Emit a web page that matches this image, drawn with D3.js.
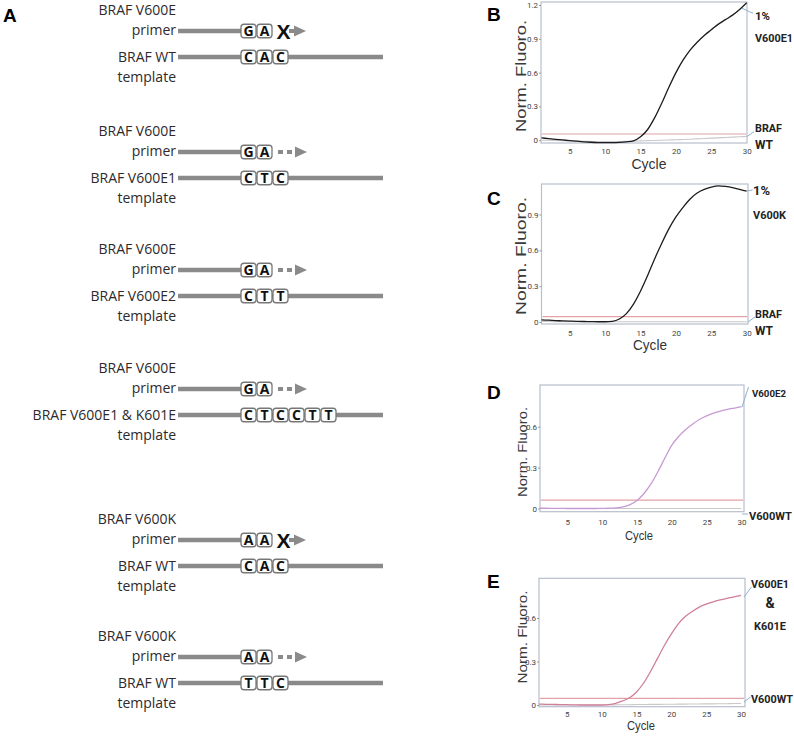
<!DOCTYPE html>
<html><head><meta charset="utf-8">
<script src="https://cdn.jsdelivr.net/npm/d3@7"></script>
<style>body{margin:0;background:#fff}svg{display:block}</style>
</head><body>
<svg id="c" width="794" height="739"></svg>
<script>
// ---------------- DATA ----------------
// Panel A scheme
const schemePrimers = ["BRAF V600E","BRAF V600E","BRAF V600E","BRAF V600E","BRAF V600K","BRAF V600K"];
const schemeTemplates = ["BRAF WT","BRAF V600E1","BRAF V600E2","BRAF V600E1 & K601E","BRAF WT","BRAF WT"];
const primerBases = [["G","A"],["G","A"],["G","A"],["G","A"],["A","A"],["A","A"]];
const templateBases = [["C","A","C"],["C","T","C"],["C","T","T"],["C","T","C","C","T","T"],["C","A","C"],["T","T","C"]];
const primerBlocked = [true,false,false,false,true,false];

// Amplification curves (cycles 1..30)
const cycles = d3.range(1, 31);
const xTicks = [5,10,15,20,25,30];
const bTarget = [0.02,0.014,0.008,0.002,-0.004,-0.009,-0.014,-0.018,-0.021,-0.022,-0.022,-0.02,-0.015,-0.006,0.03,0.095,0.2,0.33,0.47,0.6,0.71,0.8,0.87,0.93,0.98,1.03,1.07,1.11,1.16,1.22];
const bWT = [0.0,0.0,-0.002,-0.004,-0.006,-0.008,-0.01,-0.011,-0.012,-0.012,-0.012,-0.011,-0.01,-0.008,-0.006,-0.004,-0.002,0.0,0.002,0.004,0.006,0.009,0.012,0.015,0.018,0.021,0.024,0.027,0.03,0.033];
const cTarget = [0.018,0.015,0.012,0.009,0.007,0.005,0.004,0.003,0.002,0.002,0.006,0.025,0.07,0.15,0.26,0.39,0.53,0.66,0.78,0.88,0.96,1.03,1.08,1.11,1.13,1.14,1.135,1.125,1.11,1.095];
const cWT = [0.004,0.004,0.003,0.003,0.002,0.002,0.002,0.002,0.002,0.002,0.002,0.002,0.002,0.002,0.002,0.002,0.002,0.002,0.002,0.002,0.002,0.002,0.002,0.002,0.002,0.002,0.002,0.002,0.002,0.002];
const dTarget = [0.002,0.002,0.001,0.001,0.0,0.0,0.0,0.0,0.0,0.001,0.002,0.005,0.012,0.028,0.058,0.11,0.18,0.27,0.37,0.465,0.53,0.58,0.62,0.655,0.68,0.7,0.715,0.727,0.737,0.747];
const dWT = [0.0,0.0,0.0,0.0,0.0,0.0,0.0,0.0,0.0,0.0,0.0,0.0,0.0,0.0,0.0,0.0,0.0,0.0,0.0,0.0,0.0,0.0,0.0,0.0,0.0,0.0,0.0,0.0,0.0,0.0];
const eTarget = [0.006,0.005,0.004,0.003,0.002,0.001,0.0,0.0,0.0,0.0,0.003,0.012,0.028,0.05,0.09,0.15,0.23,0.32,0.41,0.49,0.56,0.61,0.645,0.675,0.695,0.712,0.725,0.736,0.746,0.756];
const eWT = [0.0,0.0,0.0,0.0,0.0,0.0,0.0,0.0,0.0,0.0,0.001,0.001,0.002,0.002,0.003,0.003,0.004,0.004,0.005,0.005,0.006,0.006,0.007,0.007,0.008,0.008,0.009,0.009,0.01,0.01];
const thresholds = [0.055, 0.045, 0.062, 0.046];
const bYTicks = [0,0.3,0.6,0.9,1.2];
const cYTicks = [0,0.3,0.6,0.9];
const dYTicks = [0,0.3,0.6];
const eYTicks = [0,0.3,0.6];
const bLabels = ["1%","V600E1","BRAF","WT"];
const cLabels = ["1%","V600K","BRAF","WT"];
const dLabels = ["V600E2","V600WT"];
const eLabels = ["V600E1","&","K601E","V600WT"];

// ---------------- DRAW ----------------
const svg = d3.select("#c");
const fontA = "'Open Sans', 'DejaVu Sans', sans-serif";
const fontArial = "'Liberation Sans', Arial, sans-serif";
const fontNarrow = "'Liberation Sans Narrow', 'Roboto', 'Liberation Sans', sans-serif";
const grayLine = "#8a8a8a";

// fit a text into a width by shrinking its font size (no overflow)
function fitText(sel, maxFs, target) {
  sel.attr("font-size", maxFs);
  const w = sel.node().getComputedTextLength();
  if (w > target) sel.attr("font-size", maxFs * target / w);
  return sel;
}

// Panel A
svg.append("text").attr("x",3).attr("y",22).text("A")
  .attr("font-family",fontArial).attr("font-weight","bold").attr("font-size",19);

const rowY = [10,131,249,368,519,636];
const labelX = 176, lineX0 = 178, boxX0 = 241, pitch = 16, boxW = 15, boxH = 13.5, tmplEnd = 383;
const pY = 21, tY = 47;

rowY.forEach((r,i)=>{
  const g = svg.append("g").attr("transform",`translate(0,${r})`);
  const lab = (t,y)=> g.append("text").attr("x",labelX).attr("y",y).attr("text-anchor","end")
      .attr("font-family",fontA).attr("font-size",14).attr("fill","#2e2a2c").text(t);
  lab(schemePrimers[i], 5);
  lab("primer", 24.5);
  lab(schemeTemplates[i], 52);
  lab("template", 72);
  g.append("line").attr("x1",lineX0).attr("x2",boxX0).attr("y1",pY).attr("y2",pY)
    .attr("stroke",grayLine).attr("stroke-width",4.5);
  g.append("line").attr("x1",lineX0).attr("x2",tmplEnd).attr("y1",tY).attr("y2",tY)
    .attr("stroke",grayLine).attr("stroke-width",4.5);
  const drawBoxes = (bases, cy) => bases.forEach((b,k)=>{
    const x = boxX0 + k*pitch;
    g.append("rect").attr("x",x).attr("y",cy-boxH/2).attr("width",boxW).attr("height",boxH)
      .attr("rx",3).attr("fill","#fff").attr("stroke","#777").attr("stroke-width",1.3);
    g.append("text").attr("x",x+boxW/2).attr("y",cy+5).attr("text-anchor","middle")
      .attr("font-family",fontA).attr("font-weight","bold").attr("font-size",14).attr("fill","#111").text(b);
  });
  drawBoxes(primerBases[i], pY);
  drawBoxes(templateBases[i], tY);
  const ex = boxX0 + primerBases[i].length*pitch;
  const dash = (a,b)=> g.append("line").attr("x1",a).attr("x2",b).attr("y1",pY).attr("y2",pY)
      .attr("stroke",grayLine).attr("stroke-width",4);
  const tri = (x0)=> g.append("path").attr("d",`M${x0},${pY-5.5}L${x0+12},${pY}L${x0},${pY+5.5}Z`).attr("fill",grayLine);
  if (primerBlocked[i]) {
    dash(ex+16, ex+21); tri(ex+21);
    g.append("text").attr("x",ex+10.5).attr("y",pY+7.5).attr("text-anchor","middle")
      .attr("font-family",fontArial).attr("font-weight","bold").attr("font-size",21).attr("fill","#111").text("X");
  } else {
    dash(ex+5, ex+10); dash(ex+14, ex+19); tri(ex+22);
  }
});

// Panels B-E
const panels = [
  {letter:"B", ly:21, box:[541,747,2,143], xr:[541.5,746.7], yd:[0,1.2], yr:[140.2,5], yt:bYTicks,
   target:bTarget, wt:bWT, col:"#1c1c1c", thr:thresholds[0], tickPad:5,
   cyc:{x:649,y:169,len:35,fs:14}, norm:{x:526,y:76,len:112,fs:14},
   labels:bLabels, lpos:[{x:755,y:20,w:15},{x:755,y:41.5,w:38},{x:755,y:131.5,w:27},{x:755,y:149,w:18}],
   leaders:[[742,8.3,753,13.3],[746.7,136.7,754,131.7]]},
  {letter:"C", ly:205, box:[541.5,748,184,324], xr:[541.5,746.7], yd:[0,0.9], yr:[322,214.5], yt:cYTicks,
   target:cTarget, wt:cWT, col:"#1c1c1c", thr:thresholds[1], tickPad:6,
   cyc:{x:650,y:350,len:34,fs:14}, norm:{x:526,y:256,len:118,fs:14},
   labels:cLabels, lpos:[{x:753,y:195,w:17},{x:753,y:219,w:33},{x:755,y:318,w:27},{x:755,y:335,w:18}],
   leaders:[[746.7,191,752.5,190],[748,322,755,317]]},
  {letter:"D", ly:399, box:[540,744,385,511.7], xr:[539.5,741.5], yd:[0,0.6], yr:[508.5,426.7], yt:dYTicks,
   target:dTarget, wt:dWT, col:"#c79ad6", thr:thresholds[2], tickPad:7.5,
   cyc:{x:639,y:540,len:28,fs:12}, norm:{x:527,y:452,len:90,fs:13},
   labels:dLabels, lpos:[{x:752,y:396.7,w:34},{x:749,y:520,w:43}],
   leaders:[[742,407,748.5,387],[742,514,748,514]]},
  {letter:"E", ly:588, box:[539,745,578.3,706.7], xr:[539,741], yd:[0,0.6], yr:[705,618], yt:eYTicks,
   target:eTarget, wt:eWT, col:"#cf7f9a", thr:thresholds[3], tickPad:4.6,
   cyc:{x:641,y:730,len:28,fs:12}, norm:{x:527,y:637,len:93,fs:13},
   labels:eLabels, lpos:[{x:770,y:588,w:38,a:"middle"},{x:770,y:608,w:10,a:"middle"},{x:770,y:630,w:32,a:"middle"},{x:751,y:703,w:42}],
   leaders:[[744,597,751.5,587],[744,702,750.5,697]]}
];

panels.forEach(p=>{
  const g = svg.append("g");
  const [bx0,bx1,by0,by1] = p.box;
  const x = d3.scaleLinear().domain([1,30]).range(p.xr);
  const y = d3.scaleLinear().domain(p.yd).range(p.yr);

  g.append("text").attr("x",487).attr("y",p.ly).text(p.letter)
    .attr("font-family",fontArial).attr("font-weight","bold").attr("font-size",19).attr("fill","#000");

  // axis titles
  g.append("text").attr("x",p.cyc.x).attr("y",p.cyc.y).attr("text-anchor","middle")
    .attr("font-family",fontArial).attr("font-size",p.cyc.fs).attr("fill","#333")
    .attr("textLength",p.cyc.len).attr("lengthAdjust","spacingAndGlyphs").text("Cycle");
  g.append("text").attr("transform",`translate(${p.norm.x},${p.norm.y}) rotate(-90)`).attr("text-anchor","middle")
    .attr("font-family",fontArial).attr("font-size",p.norm.fs).attr("fill","#3a3a3a")
    .attr("textLength",p.norm.len).attr("lengthAdjust","spacingAndGlyphs").text("Norm. Fluoro.");

  g.append("rect").attr("x",bx0).attr("y",by0).attr("width",bx1-bx0).attr("height",by1-by0)
    .attr("fill","#fff").attr("stroke","#b7bfcc").attr("stroke-width",1.2);

  // axes
  const xa = g.append("g").attr("transform",`translate(0,${by1})`)
    .call(d3.axisBottom(x).tickValues(xTicks).tickSize(0).tickPadding(p.tickPad).tickFormat(d3.format("d")));
  xa.select(".domain").remove();
  xa.selectAll("text").attr("font-family",fontNarrow).attr("font-size",8).attr("fill","#444");
  const ya = g.append("g").attr("transform",`translate(${bx0},0)`)
    .call(d3.axisLeft(y).tickValues(p.yt).tickSize(2).tickPadding(1).tickFormat(d=> d===0 ? "0" : d3.format(".1f")(d)));
  ya.select(".domain").remove();
  ya.selectAll("line").attr("stroke","#999");
  ya.selectAll("text").attr("font-family",fontNarrow).attr("font-size",8).attr("fill","#444");

  // threshold
  g.append("line").attr("x1",bx0+1).attr("x2",bx1-1).attr("y1",y(p.thr)).attr("y2",y(p.thr))
    .attr("stroke","#e3a2a6").attr("stroke-width",1.2);

  const line = d3.line().x((d,i)=>x(cycles[i])).y(d=>y(d)).curve(d3.curveMonotoneX);
  g.append("path").attr("d",line(p.wt)).attr("fill","none").attr("stroke","#c9c9c9").attr("stroke-width",1.1);
  g.append("path").attr("d",line(p.target)).attr("fill","none").attr("stroke",p.col).attr("stroke-width",1.3);

  // leaders and labels
  p.leaders.forEach(l=> g.append("line").attr("x1",l[0]).attr("y1",l[1]).attr("x2",l[2]).attr("y2",l[3])
    .attr("stroke","#8fb1cf").attr("stroke-width",1));
  p.labels.forEach((t,i)=>{
    const lp = p.lpos[i];
    const s = g.append("text").attr("x",lp.x).attr("y",lp.y).attr("text-anchor",lp.a||"start")
      .attr("font-family",fontNarrow).attr("font-weight","bold").attr("fill","#222").text(t);
    fitText(s, 14, lp.w);
  });
});
</script>
</body></html>
